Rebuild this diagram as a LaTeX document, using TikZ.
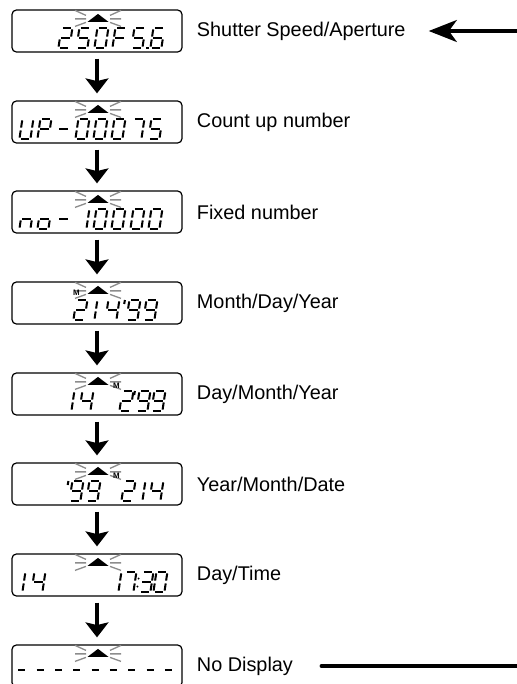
\documentclass[tikz,border=0pt]{standalone}
\usepackage{fontspec}
\setmainfont{Liberation Sans}
\usetikzlibrary{arrows.meta, positioning}
\definecolor{lcdgray}{RGB}{140,140,140}

% segments of one lcd cell (y grows downwards, baseline at 0)
\newcommand\lcdsa{(1.4,-20)--(9.6,-20)}
\newcommand\lcdsb{(11,-18.6)--(11,-11.4)}
\newcommand\lcdsc{(11,-8.6)--(11,-1.4)}
\newcommand\lcdsd{(1.4,0)--(9.6,0)}
\newcommand\lcdse{(0,-8.6)--(0,-1.4)}
\newcommand\lcdsf{(0,-18.6)--(0,-11.4)}
\newcommand\lcdsg{(1.4,-10)--(9.6,-10)}

% glyphs
\newcommand\lcddef[2]{\expandafter\def\csname lcdg#1\endcsname{#2}}
\lcddef{0}{a,b,c,d,e,f}
\lcddef{1}{b,c}
\lcddef{l}{e,f}
\lcddef{2}{a,b,g,e,d}
\lcddef{3}{a,b,g,c,d}
\lcddef{4}{f,g,b,c}
\lcddef{5}{a,f,g,c,d}
\lcddef{6}{a,f,g,e,c,d}
\lcddef{7}{a,b,c}
\lcddef{9}{a,b,c,d,f,g}
\lcddef{F}{a,f,g,e}
\lcddef{U}{b,c,d,e,f}
\lcddef{P}{a,b,f,g,e}
\lcddef{n}{e,g,c}
\lcddef{o}{c,d,e,g}
\lcddef{-}{g}

\newcommand\lcdchar[2]{%
  \begin{scope}[shift={(#1,17)}, xslant=0.15]
    \edef\lcdsegs{\csname lcdg#2\endcsname}
    \foreach \s in \lcdsegs {
      \edef\lcdpath{\noexpand\draw[lcdseg] \csname lcds\s\endcsname;}
      \lcdpath
    }
  \end{scope}}

\newcommand\lcdrow[2]{%
  \begin{scope}[shift={(#1.west)}]
    \foreach \px/\gl in {#2} {\lcdchar{\px}{\gl}}
  \end{scope}}

% blinking pointer on top of a display
\newcommand\lcdblink[1]{%
  \begin{scope}[shift={(#1.north)}, xshift=0.02cm]
    \fill (-10.5,12.5) -- (0,4.5) -- (10.5,12.5) -- cycle;
    \foreach \sx in {-1,1} {
      \draw[ray, xscale=\sx] (12,6) -- (23,1) (12,9.5) -- (23,9.5) (12,13) -- (23,17);
    }
  \end{scope}}

\begin{document}
\begin{tikzpicture}[
    x=0.02cm, y=-0.02cm,
    lcdbox/.style={draw, rounded corners=2.5pt, line width=0.7pt,
        minimum width=3.4cm, minimum height=0.84cm, inner sep=0pt},
    lcdseg/.style={line width=1.15pt},
    ray/.style={lcdgray, line width=0.75pt},
    lcdicon/.style={font=\fontsize{4.5}{5}\selectfont\bfseries, inner sep=0pt},
    modetext/.style={font=\fontsize{11.3}{13}\selectfont, inner sep=0pt},
    flow/.style={-{Stealth[length=8.5pt, width=13pt, inset=1.5pt]}, line width=1.9pt,
        shorten <=3.4pt, shorten >=4pt},
    inarrow/.style={-{Stealth[length=16pt, width=12.5pt, inset=4.5pt]}, line width=1.9pt,
        shorten >=13pt},
    backline/.style={line width=2.1pt, line cap=round, shorten <=16pt}
]
\useasboundingbox (0,0) rectangle (517,684);

% Display 1
\node[lcdbox] (d1) at (97,31) {};
\lcdblink{d1}
\lcdrow{d1}{47/2, 65/5, 83/0, 101/F, 120/5, 139/6}
\fill[shift={(d1.west)}] (135,15.6) rectangle ++(2.2,2.2);
\node[modetext, right=0.28cm of d1] (t1) {Shutter Speed/Aperture};

% Display 2
\node[lcdbox] (d2) at (97,122) {};
\lcdblink{d2}
\lcdrow{d2}{8/U, 26/P, 45/-, 64/0, 82/0, 100/0, 119/7, 137/5}
\node[modetext, right=0.28cm of d2] (t2) {Count up number};

% Display 3
\node[lcdbox] (d3) at (97,212) {};
\lcdblink{d3}
\lcdrow{d3}{8/n, 26/o, 45/-, 64/1, 82/0, 100/0, 119/0, 137/0}
\node[modetext, right=0.28cm of d3] (t3) {Fixed number};

% Display 4
\node[lcdbox] (d4) at (97,303) {};
\lcdblink{d4}
\lcdrow{d4}{62/2, 83/l, 94/4, 115/9, 132/9}
\begin{scope}[shift={(d4.west)}]
  \draw[lcdseg] (113.5,-3) -- (112.8,1);
  \node[lcdicon] (m4) at (65,-10) {M};
\end{scope}
\node[modetext, right=0.28cm of d4] (t4) {Month/Day/Year};

% Display 5
\node[lcdbox] (d5) at (97,394) {};
\lcdblink{d5}
\lcdrow{d5}{49/1, 68/4, 108/2, 125/9, 140/9}
\begin{scope}[shift={(d5.west)}]
  \draw[lcdseg] (123.5,-3) -- (122.8,1);
  \node[lcdicon] (m5) at (105,-8) {M};
\end{scope}
\node[modetext, right=0.28cm of d5] (t5) {Day/Month/Year};

% Display 6
\node[lcdbox] (d6) at (97,484) {};
\lcdblink{d6}
\lcdrow{d6}{58/9, 75/9, 110/2, 120/1, 138/4}
\begin{scope}[shift={(d6.west)}]
  \draw[lcdseg] (57,-3) -- (56.3,1);
  \node[lcdicon] (m6) at (105,-8) {M};
\end{scope}
\node[modetext, right=0.28cm of d6] (t6) {Year/Month/Date};

% Display 7
\node[lcdbox] (d7) at (97,575) {};
\lcdblink{d7}
\lcdrow{d7}{0/1, 20/4, 96/1, 111/7, 128/3, 142/0}
\begin{scope}[shift={(d7.west)}]
  \fill (127.2,3.5) circle (1.1) (126,11.5) circle (1.1);
\end{scope}
\node[modetext, right=0.28cm of d7] (t7) {Day/Time};

% Display 8
\node[lcdbox] (d8) at (97,666) {};
\lcdblink{d8}
\begin{scope}[shift={(d8.west)}]
  \foreach \i in {0,...,8} \draw[lcdseg] (7+18.3*\i,4) -- ++(7,0);
\end{scope}
\node[modetext, right=0.28cm of d8] (t8) {No Display};

% connectors
\draw[flow] (d1) -- (d2);
\draw[flow] (d2) -- (d3);
\draw[flow] (d3) -- (d4);
\draw[flow] (d4) -- (d5);
\draw[flow] (d5) -- (d6);
\draw[flow] (d6) -- (d7);
\draw[flow] (d7) -- (d8);

\coordinate (entry) at (517,31);
\coordinate (exit) at (517,666);
\draw[inarrow] (entry) -- (t1.east);
\draw[backline] (t8.east) -- (exit);

\end{tikzpicture}
\end{document}
